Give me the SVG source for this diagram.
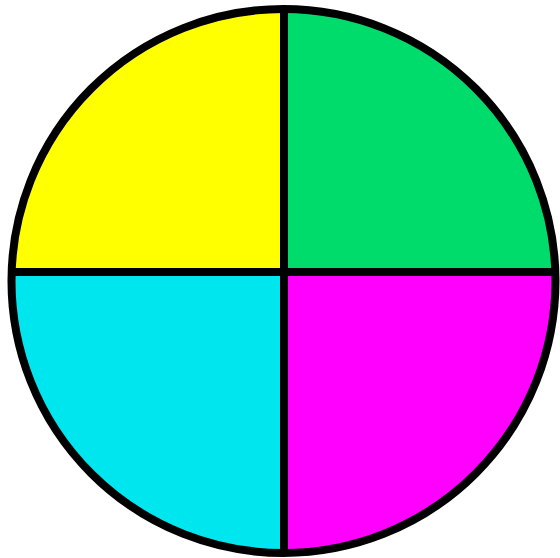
<svg xmlns="http://www.w3.org/2000/svg" width="560" height="558" viewBox="0 0 560 558">
<defs>
<clipPath id="c"><circle cx="283.5" cy="281" r="272"/></clipPath>
<style>.l{stroke:#000;stroke-width:8;fill:none}</style>
</defs>
<rect width="560" height="558" fill="#fff"/>
<g clip-path="url(#c)">
<g id="q-yellow"><rect x="0" y="0" width="284" height="272" fill="#ffff00"/></g>
<g id="q-green"><rect x="284" y="0" width="276" height="272" fill="#00dc6c"/></g>
<g id="q-cyan"><rect x="0" y="272" width="284" height="286" fill="#00e6ee"/></g>
<g id="q-magenta"><rect x="284" y="272" width="276" height="286" fill="#ff00ff"/></g>
</g>
<g id="lines">
<line class="l" x1="284" y1="8" x2="284" y2="555" clip-path="url(#c)"/>
<line class="l" x1="10" y1="272" x2="558" y2="272" clip-path="url(#c)"/>
<circle class="l" cx="283.5" cy="281" r="272"/>
</g>
</svg>
